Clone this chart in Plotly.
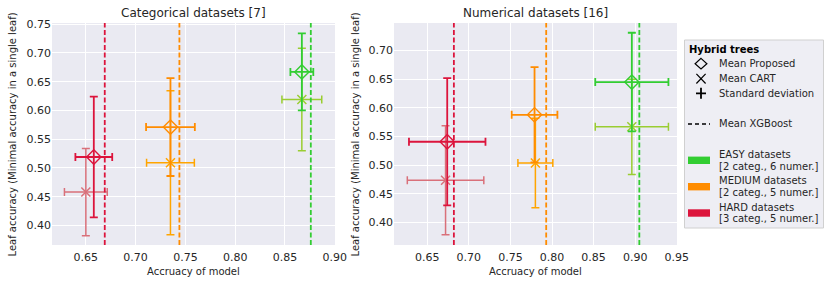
import plotly.graph_objects as go

W, H = 831, 284

groups = ["EASY", "MEDIUM", "HARD"]
prop_colors = ["#32CD32", "#FF8C00", "#DC143C"]
cart_colors = ["#9ACD32", "#FFA500", "#D9707A"]
xgb_colors = ["#32CD32", "#FF8C00", "#DC143C"]

# Categorical datasets [7]
cat_prop_x = [0.867, 0.735, 0.658]
cat_prop_xerr = [0.0115, 0.0245, 0.0185]
cat_prop_y = [0.667, 0.571, 0.519]
cat_prop_yerr = [0.067, 0.085, 0.105]
cat_cart_x = [0.867, 0.735, 0.650]
cat_cart_xerr = [0.020, 0.024, 0.0215]
cat_cart_y = [0.619, 0.509, 0.458]
cat_cart_yerr = [0.089, 0.125, 0.076]
cat_xgb = [0.876, 0.744, 0.669]

# Numerical datasets [16]
num_prop_x = [0.896, 0.779, 0.674]
num_prop_xerr = [0.044, 0.0275, 0.046]
num_prop_y = [0.645, 0.588, 0.541]
num_prop_yerr = [0.086, 0.083, 0.111]
num_cart_x = [0.896, 0.780, 0.672]
num_cart_xerr = [0.044, 0.021, 0.046]
num_cart_y = [0.567, 0.504, 0.474]
num_cart_yerr = [0.083, 0.078, 0.095]
num_xgb = [0.905, 0.793, 0.682]

titles = ["Categorical datasets [7]", "Numerical datasets [16]"]
x_label = "Accruacy of model"
y_label = "Leaf accuracy (Minimal accuracy in a single leaf)"
legend_title = "Hybrid trees"
legend_markers = ["Mean Proposed", "Mean CART", "Standard deviation"]
legend_xgb = "Mean XGBoost"
legend_groups = [["EASY datasets", "[2 categ., 6 numer.]"],
                 ["MEDIUM datasets", "[2 categ., 5 numer.]"],
                 ["HARD datasets", "[3 categ., 5 numer.]"]]

FONT = "DejaVu Sans"
TXT = "#262626"


def X(px):
    return px / W


def Y(py):
    return 1 - py / H


fig = go.Figure()

panels = [
    dict(px=cat_prop_x, pxe=cat_prop_xerr, py=cat_prop_y, pye=cat_prop_yerr,
         cx=cat_cart_x, cxe=cat_cart_xerr, cy=cat_cart_y, cye=cat_cart_yerr,
         xgb=cat_xgb, xa="x", ya="y"),
    dict(px=num_prop_x, pxe=num_prop_xerr, py=num_prop_y, pye=num_prop_yerr,
         cx=num_cart_x, cxe=num_cart_xerr, cy=num_cart_y, cye=num_cart_yerr,
         xgb=num_xgb, xa="x2", ya="y2"),
]

shapes = []
for p in panels:
    for i in range(3):
        fig.add_trace(go.Scatter(
            x=[p["cx"][i]], y=[p["cy"][i]], xaxis=p["xa"], yaxis=p["ya"],
            mode="markers", showlegend=False,
            marker=dict(symbol="x-thin-open", size=9, color=cart_colors[i],
                        line=dict(width=1.5, color=cart_colors[i])),
            error_x=dict(type="data", array=[p["cxe"][i]], color=cart_colors[i],
                         thickness=1.5, width=4),
            error_y=dict(type="data", array=[p["cye"][i]], color=cart_colors[i],
                         thickness=1.5, width=4),
        ))
        fig.add_trace(go.Scatter(
            x=[p["px"][i]], y=[p["py"][i]], xaxis=p["xa"], yaxis=p["ya"],
            mode="markers", showlegend=False,
            marker=dict(symbol="diamond-open", size=11, color=prop_colors[i],
                        line=dict(width=1.4, color=prop_colors[i])),
            error_x=dict(type="data", array=[p["pxe"][i]], color=prop_colors[i],
                         thickness=1.8, width=4),
            error_y=dict(type="data", array=[p["pye"][i]], color=prop_colors[i],
                         thickness=1.8, width=4),
        ))
        shapes.append(dict(type="line", xref=p["xa"], yref=p["ya"] + " domain",
                           x0=p["xgb"][i], x1=p["xgb"][i], y0=0, y1=1,
                           line=dict(color=xgb_colors[i], width=1.8, dash="5px,2.5px")))

axis_common = dict(showgrid=True, gridcolor="white", gridwidth=1.2, zeroline=False,
                   showline=False, ticks="", tickformat=".2f", dtick=0.05, tick0=0,
                   tickfont=dict(family=FONT, size=11, color=TXT), automargin=False)

fig.update_layout(
    width=W, height=H,
    margin=dict(l=0, r=0, t=0, b=0),
    paper_bgcolor="white", plot_bgcolor="#EAEAF2",
    showlegend=False,
    xaxis=dict(domain=[X(52), X(335)], range=[0.616, 0.9003], anchor="y",
               ticklabelstandoff=4, **axis_common),
    yaxis=dict(domain=[Y(245), Y(23)], range=[0.366, 0.752], anchor="x", **axis_common),
    xaxis2=dict(domain=[X(394), X(677)], range=[0.610, 0.9503], anchor="y2",
                ticklabelstandoff=4, **axis_common),
    yaxis2=dict(domain=[Y(245), Y(23)], range=[0.361, 0.748], anchor="x2", **axis_common),
)

ann = []
for cx, t in zip([193.5, 535.5], titles):
    ann.append(dict(text=t, x=X(cx), y=Y(13), xref="paper", yref="paper",
                    xanchor="center", yanchor="middle", showarrow=False,
                    font=dict(family=FONT, size=12, color=TXT)))
    ann.append(dict(text=x_label, x=X(cx), y=Y(271), xref="paper", yref="paper",
                    xanchor="center", yanchor="middle", showarrow=False,
                    font=dict(family=FONT, size=10, color=TXT)))
for lx in [12, 355]:
    ann.append(dict(text=y_label, x=X(lx), y=Y(134.5), xref="paper", yref="paper",
                    xanchor="center", yanchor="middle", showarrow=False, textangle=-90,
                    font=dict(family=FONT, size=10, color=TXT)))

# Legend box
shapes.append(dict(type="rect", xref="paper", yref="paper", x0=X(684.5), x1=X(823.5),
                   y0=Y(228), y1=Y(40), fillcolor="#EEEEF4",
                   line=dict(color="#D0D0D0", width=1), layer="above"))
ann.append(dict(text="<b>" + legend_title + "</b>", x=X(686.5), y=Y(49.5), xref="paper",
                yref="paper", xanchor="left", yanchor="middle", showarrow=False,
                font=dict(family=FONT, size=10, color="black")))
row_y = [63.7, 78.7, 93.3]
for ty, t in zip(row_y, legend_markers):
    ann.append(dict(text=t, x=X(716.5), y=Y(ty), xref="paper", yref="paper",
                    xanchor="left", yanchor="middle", showarrow=False,
                    font=dict(family=FONT, size=10, color=TXT)))
mx = 701
# diamond
d = row_y[0]
shapes.append(dict(type="path", xref="paper", yref="paper", layer="above",
                   path=f"M {X(mx)},{Y(d-5.3)} L {X(mx+5.9)},{Y(d)} L {X(mx)},{Y(d+5.3)} L {X(mx-5.9)},{Y(d)} Z",
                   line=dict(color="black", width=1.2)))
# x
d = row_y[1]
shapes.append(dict(type="path", xref="paper", yref="paper", layer="above",
                   path=f"M {X(mx-4.6)},{Y(d-4.8)} L {X(mx+4.6)},{Y(d+4.8)} M {X(mx-4.6)},{Y(d+4.8)} L {X(mx+4.6)},{Y(d-4.8)}",
                   line=dict(color="black", width=1.2)))
# +
d = row_y[2]
shapes.append(dict(type="path", xref="paper", yref="paper", layer="above",
                   path=f"M {X(mx-5)},{Y(d)} L {X(mx+5)},{Y(d)} M {X(mx)},{Y(d-5.5)} L {X(mx)},{Y(d+5.5)}",
                   line=dict(color="black", width=1.8)))
# dashed
shapes.append(dict(type="line", xref="paper", yref="paper", layer="above",
                   x0=X(688), x1=X(710), y0=Y(124), y1=Y(124),
                   line=dict(color="black", width=1.5, dash="4px,3px")))
ann.append(dict(text=legend_xgb, x=X(716.5), y=Y(124), xref="paper", yref="paper",
                xanchor="left", yanchor="middle", showarrow=False,
                font=dict(family=FONT, size=10, color=TXT)))
for gy, c, lines in zip([160.3, 186.7, 213.0], prop_colors, legend_groups):
    shapes.append(dict(type="rect", xref="paper", yref="paper", layer="above",
                       x0=X(688), x1=X(710), y0=Y(gy + 3.7), y1=Y(gy - 3.7),
                       fillcolor=c, line=dict(width=0)))
    for k, t in enumerate(lines):
        ann.append(dict(text=t, x=X(716.5), y=Y(gy - 5.9 + 11.7 * k), xref="paper",
                        yref="paper", xanchor="left", yanchor="middle", showarrow=False,
                        font=dict(family=FONT, size=10, color=TXT)))

fig.update_layout(shapes=shapes, annotations=ann)
fig.write_html("out.html", config={"displayModeBar": False},
               post_script="document.body.style.margin='0';document.body.style.padding='0';")
